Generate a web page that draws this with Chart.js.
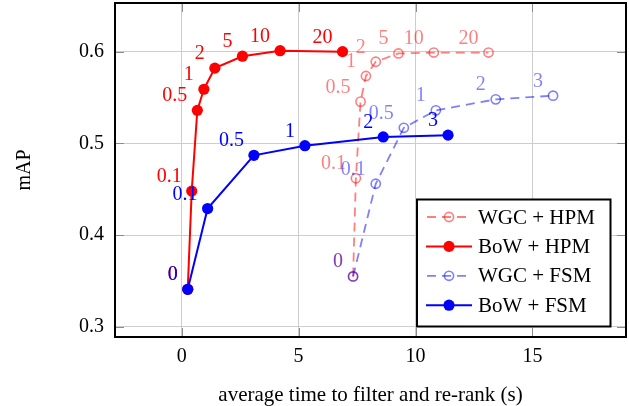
<!DOCTYPE html>
<html>
<head>
<meta charset="utf-8">
<script src="https://cdn.jsdelivr.net/npm/chart.js@4.4.0/dist/chart.umd.min.js"></script>
<style>
html, body { margin: 0; padding: 0; background: #fff; }
</style>
</head>
<body>
<canvas id="grafico" width="629" height="406"></canvas>
<script>
// datos
const serieNombres = ['WGC + HPM', 'BoW + HPM', 'WGC + FSM', 'BoW + FSM'];

const wgcHpmEtiquetas = ['0', '0.1', '0.5', '1', '2', '5', '10', '20'];
const wgcHpmTiempo = [7.33, 7.45, 7.65, 7.88, 8.30, 9.27, 10.78, 13.12];
const wgcHpmMap = [0.355, 0.462, 0.5455, 0.5735, 0.589, 0.598, 0.599, 0.599];

const bowHpmEtiquetas = ['0', '0.1', '0.5', '1', '2', '5', '10', '20'];
const bowHpmTiempo = [0.26, 0.43, 0.67, 0.95, 1.42, 2.6, 4.21, 6.88];
const bowHpmMap = [0.341, 0.448, 0.536, 0.559, 0.582, 0.595, 0.601, 0.600];

const wgcFsmEtiquetas = ['0', '0.1', '0.5', '1', '2', '3'];
const wgcFsmTiempo = [7.33, 8.30, 9.50, 10.87, 13.43, 15.88];
const wgcFsmMap = [0.355, 0.456, 0.517, 0.536, 0.548, 0.552];

const bowFsmEtiquetas = ['0', '0.1', '0.5', '1', '2', '3'];
const bowFsmTiempo = [0.26, 1.11, 3.09, 5.27, 8.62, 11.39];
const bowFsmMap = [0.341, 0.429, 0.487, 0.4975, 0.507, 0.509];

const xTicks = [0, 5, 10, 15];
const yTicks = [0.3, 0.4, 0.5, 0.6];

const fuente = { family: 'Liberation Serif', size: 20 };
const fuenteLeyenda = { family: 'Liberation Serif', size: 21 };

function puntos(xs, ys) {
    return xs.map((x, i) => ({ x: x, y: ys[i] }));
}

function serie(nombre, xs, ys, etiquetas, color, hueco, orden) {
    return {
        label: nombre,
        data: puntos(xs, ys),
        etiquetas: etiquetas,
        hueco: hueco,
        order: orden,
        borderColor: color,
        borderWidth: hueco ? 1.8 : 2,
        borderDash: hueco ? [9, 6] : [],
        tension: 0,
        pointStyle: 'circle',
        pointRadius: hueco ? 4.6 : 5.6,
        pointBorderWidth: hueco ? 1.6 : 0,
        pointBorderColor: color,
        pointBackgroundColor: hueco ? 'rgba(0,0,0,0)' : color
    };
}

const rojoClaro = 'rgba(255,0,0,0.5)';
const azulClaro = 'rgba(0,0,255,0.5)';

// sin relleno automatico alrededor de las escalas
function sinRelleno(s) {
    s.paddingTop = 0;
    s.paddingBottom = 0;
    s.paddingLeft = 0;
    s.paddingRight = 0;
}

// etiquetas junto a cada punto
const etiquetasPlugin = {
    id: 'etiquetas',
    afterDatasetDraw(chart, args) {
        const ctx = chart.ctx;
        const ds = chart.data.datasets[args.index];
        ctx.save();
        ctx.font = fuente.size + 'px ' + fuente.family;
        ctx.fillStyle = ds.borderColor;
        ctx.textAlign = 'right';
        ctx.textBaseline = 'alphabetic';
        args.meta.data.forEach((p, i) => {
            ctx.fillText(ds.etiquetas[i], p.x - 10, p.y - 9);
        });
        ctx.restore();
    }
};

// marcas de los ejes, marco y leyenda
const marcoPlugin = {
    id: 'marco',
    beforeDatasetsDraw(chart) {
        const ctx = chart.ctx;
        const a = chart.chartArea;
        const largo = 9;
        ctx.save();
        ctx.strokeStyle = '#8c8c8c';
        ctx.lineWidth = 1;
        ctx.beginPath();
        xTicks.forEach(v => {
            const x = Math.round(chart.scales.x.getPixelForValue(v)) + 0.5;
            ctx.moveTo(x, a.bottom); ctx.lineTo(x, a.bottom - largo);
            ctx.moveTo(x, a.top); ctx.lineTo(x, a.top + largo);
        });
        yTicks.forEach(v => {
            const y = Math.round(chart.scales.y.getPixelForValue(v)) + 0.5;
            ctx.moveTo(a.left, y); ctx.lineTo(a.left + largo, y);
            ctx.moveTo(a.right, y); ctx.lineTo(a.right - largo, y);
        });
        ctx.stroke();
        ctx.restore();
    },
    afterDraw(chart) {
        const ctx = chart.ctx;
        const a = chart.chartArea;
        ctx.save();
        ctx.strokeStyle = '#000';
        ctx.lineWidth = 2;
        ctx.strokeRect(a.left, a.top, a.right - a.left, a.bottom - a.top);

        // leyenda
        const lx = a.right - 209, ly = a.bottom - 137.5, lw = 193.5, lh = 127;
        ctx.fillStyle = '#fff';
        ctx.fillRect(lx, ly, lw, lh);
        ctx.lineWidth = 2;
        ctx.strokeRect(lx, ly, lw, lh);
        ctx.font = fuenteLeyenda.size + 'px ' + fuenteLeyenda.family;
        ctx.textBaseline = 'middle';
        ctx.textAlign = 'left';
        chart.data.datasets.forEach((ds, i) => {
            const y = ly + 17.5 + i * 29.4;
            const x0 = lx + 9, x1 = lx + 55, xm = lx + 32;
            ctx.strokeStyle = ds.borderColor;
            ctx.lineWidth = ds.borderWidth;
            ctx.setLineDash(ds.borderDash);
            ctx.lineDashOffset = -1;
            ctx.beginPath();
            ctx.moveTo(x0, y);
            ctx.lineTo(x1, y);
            ctx.stroke();
            ctx.setLineDash([]);
            ctx.beginPath();
            ctx.arc(xm, y, ds.pointRadius, 0, Math.PI * 2);
            if (ds.hueco) {
                ctx.lineWidth = ds.pointBorderWidth;
                ctx.stroke();
            } else {
                ctx.fillStyle = ds.borderColor;
                ctx.fill();
            }
            ctx.fillStyle = '#000';
            ctx.fillText(ds.label, lx + 61, y + 1);
        });
        ctx.restore();
    }
};

new Chart(document.getElementById('grafico').getContext('2d'), {
    type: 'line',
    data: {
        datasets: [
            serie(serieNombres[0], wgcHpmTiempo, wgcHpmMap, wgcHpmEtiquetas, rojoClaro, true, 3),
            serie(serieNombres[1], bowHpmTiempo, bowHpmMap, bowHpmEtiquetas, 'rgb(255,0,0)', false, 2),
            serie(serieNombres[2], wgcFsmTiempo, wgcFsmMap, wgcFsmEtiquetas, azulClaro, true, 1),
            serie(serieNombres[3], bowFsmTiempo, bowFsmMap, bowFsmEtiquetas, 'rgb(0,0,255)', false, 0)
        ]
    },
    options: {
        responsive: false,
        animation: false,
        devicePixelRatio: 1,
        layout: { autoPadding: false, padding: { left: 0, top: 3, right: 3, bottom: 0 } },
        plugins: { legend: { display: false }, tooltip: { enabled: false } },
        scales: {
            x: {
                type: 'linear',
                min: -2.85,
                max: 19,
                afterBuildTicks: s => { s.ticks = xTicks.map(v => ({ value: v })); },
                afterFit: s => { s.height = 69; sinRelleno(s); },
                grid: { color: '#cdcdcd', lineWidth: 1, drawTicks: false },
                border: { display: false },
                ticks: { font: fuente, color: '#000', padding: 8, maxRotation: 0, callback: v => String(v) },
                title: { display: true, text: 'average time to filter and re-rank (s)', font: { family: 'Liberation Serif', size: 21, lineHeight: 1 }, color: '#000', padding: { top: 0, bottom: 0 } }
            },
            y: {
                type: 'linear',
                min: 0.289,
                max: 0.653,
                afterBuildTicks: s => { s.ticks = yTicks.map(v => ({ value: v })); },
                afterFit: s => { s.width = 115; sinRelleno(s); },
                grid: { color: '#cdcdcd', lineWidth: 1, drawTicks: false },
                border: { display: false },
                ticks: { font: fuente, color: '#000', padding: 11, callback: v => v.toFixed(1) },
                title: { display: true, text: 'mAP', font: fuente, color: '#000', padding: { top: 13, bottom: 0 } }
            }
        }
    },
    plugins: [etiquetasPlugin, marcoPlugin]
});
</script>
</body>
</html>
